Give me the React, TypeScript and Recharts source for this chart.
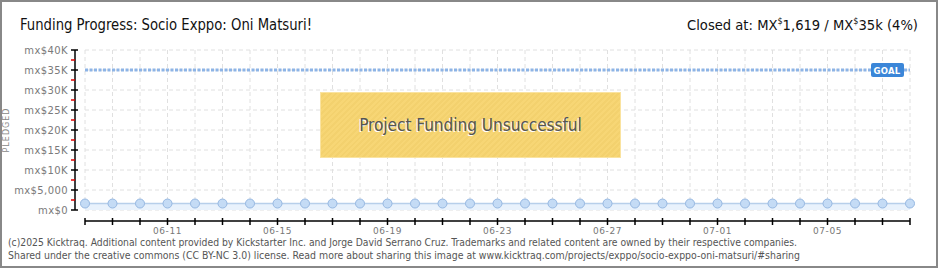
import React from 'react';
import { ComposedChart, Area, XAxis, YAxis, CartesianGrid, ReferenceLine } from 'recharts';

const dates = [
  '06-08', '06-09', '06-10', '06-11', '06-12', '06-13', '06-14', '06-15', '06-16', '06-17',
  '06-18', '06-19', '06-20', '06-21', '06-22', '06-23', '06-24', '06-25', '06-26', '06-27',
  '06-28', '06-29', '06-30', '07-01', '07-02', '07-03', '07-04', '07-05', '07-06', '07-07', '07-08',
];
const pledged = [
  1619, 1619, 1619, 1619, 1619, 1619, 1619, 1619, 1619, 1619,
  1619, 1619, 1619, 1619, 1619, 1619, 1619, 1619, 1619, 1619,
  1619, 1619, 1619, 1619, 1619, 1619, 1619, 1619, 1619, 1619, 1619,
];
const xLabels = ['06-11', '06-15', '06-19', '06-23', '06-27', '07-01', '07-05'];
const yTicks = [0, 2500, 5000, 7500, 10000, 12500, 15000, 17500, 20000, 22500, 25000, 27500, 30000, 32500, 35000, 37500, 40000];
const yMajor = [0, 5000, 10000, 15000, 20000, 25000, 30000, 35000, 40000];
const yLabels = ['mx$0', 'mx$5,000', 'mx$10K', 'mx$15K', 'mx$20K', 'mx$25K', 'mx$30K', 'mx$35K', 'mx$40K'];
const goal = 35000;

const data = dates.map((d, i) => ({ date: d, value: pledged[i] }));

const tickFont = "'DejaVu Sans', sans-serif";

const XTick = (props: any) => {
  const { x, y, payload } = props;
  const show = xLabels.includes(payload.value);
  return (
    <g>
      <line x1={x} x2={x} y1={y - 3} y2={y + 4} stroke="#000" strokeWidth={1.5} />
      {show && (
        <text x={x} y={y + 13} textAnchor="middle" fontSize={9} fill="#777" fontFamily={tickFont} letterSpacing={0.6}>
          {payload.value}
        </text>
      )}
    </g>
  );
};

const YTick = (props: any) => {
  const { x, y, payload } = props;
  const idx = yMajor.indexOf(payload.value);
  if (idx < 0) {
    return <line x1={x - 4} x2={x} y1={y} y2={y} stroke="#e00000" strokeWidth={1.5} />;
  }
  return (
    <g>
      <line x1={x - 4} x2={x + 3} y1={y} y2={y} stroke="#000" strokeWidth={1.5} />
      <text x={x - 7} y={y + 4} textAnchor="end" fontSize={10} fill="#7a7a7a" fontFamily={tickFont} letterSpacing={0.4}>
        {yLabels[idx]}
      </text>
    </g>
  );
};

const GoalLabel = (props: any) => {
  const vb = props.viewBox || {};
  const right = vb.x + vb.width;
  const y = vb.y;
  return (
    <g>
      <rect x={right - 39} y={y - 7} width={33} height={14} rx={2} fill="#3b86d8" />
      <text x={right - 23} y={y + 3.5} textAnchor="middle" fontSize={8.5} fontWeight="bold" fill="#fff" fontFamily={tickFont} letterSpacing={0.3}>
        GOAL
      </text>
    </g>
  );
};

export default function App() {
  const titleFont = "'DejaVu Sans Condensed', 'Liberation Sans Narrow', 'DejaVu Sans', sans-serif";
  return (
    <div style={{ position: 'fixed', left: 0, top: 0, width: 940, height: 270, background: '#fff', overflow: 'hidden' }}>
      <ComposedChart
        width={940}
        height={270}
        data={data}
        margin={{ top: 50, right: 30, bottom: 29, left: 10 }}
        style={{ position: 'absolute', left: 0, top: 0 }}
      >
        <XAxis xAxisId="gap" dataKey="date" height={11} axisLine={false} tickLine={false} tick={false} />
        <XAxis
          xAxisId="main"
          dataKey="date"
          height={20}
          interval={0}
          tickSize={0}
          tickMargin={0}
          tickLine={false}
          axisLine={{ stroke: '#000', strokeWidth: 1.5 }}
          tick={<XTick />}
        />
        <YAxis yAxisId="gap" width={10} domain={[0, 40000]} axisLine={false} tickLine={false} tick={false} />
        <YAxis
          yAxisId="main"
          width={65}
          domain={[0, 40000]}
          ticks={yTicks}
          interval={0}
          tickSize={0}
          tickMargin={0}
          tickLine={false}
          axisLine={{ stroke: '#000', strokeWidth: 1.5 }}
          tick={<YTick />}
        />
        <CartesianGrid
          xAxisId="main"
          yAxisId="main"
          stroke="#e0e0e0"
          strokeDasharray="4 3"
          horizontalValues={yMajor}
        />
        <Area
          xAxisId="main"
          yAxisId="main"
          type="linear"
          dataKey="value"
          stroke="#b7cfea"
          strokeWidth={1.5}
          fill="#e9f2fc"
          fillOpacity={1}
          dot={{ r: 4.5, fill: '#c4dbf5', stroke: '#96b8e2', strokeWidth: 1 }}
          activeDot={false}
          isAnimationActive={false}
        />
        <ReferenceLine
          xAxisId="main"
          yAxisId="main"
          y={goal}
          stroke="#8db4e6"
          strokeWidth={3}
          strokeDasharray="3 1.5"
          label={<GoalLabel />}
        />
      </ComposedChart>

      <div
        style={{
          position: 'absolute',
          left: 320,
          top: 92,
          width: 301,
          height: 66,
          background: 'repeating-linear-gradient(135deg, #f7d675 0px, #f7d675 2px, #f3d16e 2px, #f3d16e 4px)',
          border: '1px solid #fae3a0',
          boxSizing: 'border-box',
          display: 'flex',
          alignItems: 'center',
          justifyContent: 'center',
          fontFamily: titleFont,
          fontSize: 17,
          color: '#555',
          textShadow: '-1px 1px 0 #fff',
        }}
      >
        Project Funding Unsuccessful
      </div>

      <svg width={940} height={270} style={{ position: 'absolute', left: 0, top: 0, pointerEvents: 'none' }}>
        <rect x={1} y={1} width={936} height={266} fill="none" stroke="#888" strokeWidth={2} />
        <text x={20} y={30} fontSize={16} fill="#111" fontFamily={titleFont} textLength={292} lengthAdjust="spacingAndGlyphs">
          Funding Progress: Socio Exppo: Oni Matsuri!
        </text>
        <text x={918} y={30} fontSize={14.6} fill="#111" fontFamily={titleFont} textAnchor="end">
          Closed at:{'  '}MX<tspan fontSize={9} dy={-6}>$</tspan><tspan dy={6}>1,619 / MX</tspan><tspan fontSize={9} dy={-6}>$</tspan><tspan dy={6}>35k (4%)</tspan>
        </text>
        <text x={9} y={130} fontSize={8} fill="#888" fontFamily={tickFont} textAnchor="middle" transform="rotate(-90 9 130)" letterSpacing={1}>
          PLEDGED
        </text>
        <text x={8} y={246} fontSize={10} fill="#555" fontFamily={titleFont} textLength={789} lengthAdjust="spacingAndGlyphs">
          (c)2025 Kicktraq. Additional content provided by Kickstarter Inc. and Jorge David Serrano Cruz. Trademarks and related content are owned by their respective companies.
        </text>
        <text x={8} y={259} fontSize={10} fill="#555" fontFamily={titleFont} textLength={792} lengthAdjust="spacingAndGlyphs">
          Shared under the creative commons (CC BY-NC 3.0) license. Read more about sharing this image at www.kicktraq.com/projects/exppo/socio-exppo-oni-matsuri/#sharing
        </text>
      </svg>
    </div>
  );
}
